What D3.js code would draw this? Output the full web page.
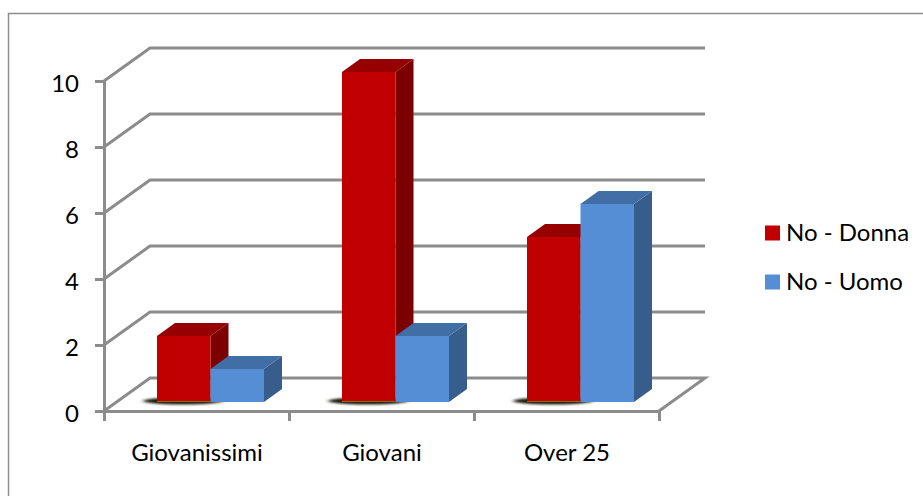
<!DOCTYPE html>
<html>
<head>
<meta charset="utf-8">
<script src="https://cdn.jsdelivr.net/npm/d3@7/dist/d3.min.js"></script>
<style>
html,body{margin:0;padding:0;background:#fff}
svg{display:block}
text{font-family:Lato,"Open Sans",sans-serif;fill:#000}
</style>
</head>
<body>
<script>
const categories = ["Giovanissimi", "Giovani", "Over 25"];
const seriesNames = ["No - Donna", "No - Uomo"];
const donna = [2, 10, 5];
const uomo = [1, 2, 6];
const valueTicks = [0, 2, 4, 6, 8, 10];
const seriesColors = [
  {front: "#c00000", top: "#960000", side: "#7c0000"},
  {front: "#558ed5", top: "#426ea6", side: "#375d8c"}
];

const width = 923, height = 496;
const svg = d3.select("body").append("svg").attr("width", width).attr("height", height);

const defs = svg.append("defs");
defs.append("filter").attr("id", "baseShadow").attr("x", "-30%").attr("y", "-200%").attr("width", "160%").attr("height", "500%")
  .append("feGaussianBlur").attr("stdDeviation", "2 1");

// Chart frame
svg.append("rect").attr("x", 8.5).attr("y", 13.5).attr("width", 940).attr("height", 520)
  .attr("fill", "#fff").attr("stroke", "#8e8e8e").attr("stroke-width", 1.5);

// Front plane of the 3D box and the depth offset to its back wall
const x = d3.scaleBand().domain(categories).range([104, 659]);
const y = d3.scaleLinear().domain([0, 10]).range([411, 81]);
const depth = {dx: 46, dy: -33};
const axisColor = "#8c8c8c";
const axisWidth = 3;

const wall = svg.append("g").attr("fill", "none").attr("stroke", axisColor).attr("stroke-width", axisWidth);

// Gridlines: slanted along the side wall, then straight along the back wall
valueTicks.forEach(t => {
  const px = x.range()[0], py = y(t);
  const pts = [[px, py], [px + depth.dx, py + depth.dy], [x.range()[1] + depth.dx, py + depth.dy]];
  if (t === 0) pts.push([x.range()[1], py]);
  wall.append("path").attr("d", d3.line()(pts));
});

// Axes: drawn through d3.axis, with the ticks pointing outward
const axisLeft = d3.axisLeft(y).tickValues(valueTicks).tickSize(9).tickPadding(16).tickFormat(d3.format("d"));
const gy = svg.append("g").attr("transform", "translate(104,0)").call(axisLeft);
const xEdges = [0, 1, 2, 3].map(i => x.range()[0] + i * x.step());
const xEdgeScale = d3.scaleLinear().domain([x.range()[0], x.range()[1]]).range([x.range()[0], x.range()[1]]);
const axisBottom = d3.axisBottom(xEdgeScale).tickValues(xEdges).tickSize(10).tickFormat("");
const gx = svg.append("g").attr("transform", "translate(0,411)").call(axisBottom);
[gy, gx].forEach(g => {
  g.select(".domain").attr("stroke", axisColor).attr("stroke-width", axisWidth).attr("fill", "none");
  g.selectAll(".tick line").attr("stroke", axisColor).attr("stroke-width", axisWidth);
});
gy.selectAll(".tick text").attr("font-size", 24).attr("font-family", "Lato").attr("fill", "#000").attr("dy", "0.43em");

// Category labels centred under each band
svg.append("g").selectAll("text").data(categories).join("text")
  .attr("x", d => x(d) + x.bandwidth() / 2 + 0.5)
  .attr("y", 461)
  .attr("text-anchor", "middle")
  .attr("font-size", 24)
  .text(d => d);

// Bars: each series sits in a band inside its category, lifted onto the floor
const inner = d3.scaleBand().domain(seriesNames).range([53, 160]);
const floorLift = y(0) - 402;
const barDepth = {dx: 18, dy: -13};

const bars = [];
categories.forEach((c, i) => {
  seriesNames.forEach((s, j) => {
    bars.push({cat: c, series: s, j, value: (j === 0 ? donna : uomo)[i]});
  });
});

// Soft contact shadow under the red bars
svg.append("g").attr("filter", "url(#baseShadow)").selectAll("ellipse")
  .data(bars.filter(b => b.j === 0)).join("ellipse")
  .attr("cx", b => x(b.cat) + inner(b.series) + 26)
  .attr("cy", 401)
  .attr("rx", 40)
  .attr("ry", 3.5)
  .attr("fill", "#1e1e10");

const barG = svg.append("g").selectAll("g").data(bars).join("g");
barG.each(function(b) {
  const g = d3.select(this);
  const x0 = x(b.cat) + inner(b.series);
  const x1 = x0 + inner.bandwidth();
  const yb = y(0) - floorLift;
  const yt = y(b.value) - floorLift;
  const c = seriesColors[b.j];
  const line = d3.line();
  g.append("path").attr("fill", c.side).attr("d", line([
    [x1, yt], [x1 + barDepth.dx, yt + barDepth.dy], [x1 + barDepth.dx, yb + barDepth.dy], [x1, yb]
  ]) + "Z");
  g.append("path").attr("fill", c.top).attr("d", line([
    [x0, yt], [x0 + barDepth.dx, yt + barDepth.dy], [x1 + barDepth.dx, yt + barDepth.dy], [x1, yt]
  ]) + "Z");
  g.append("rect").attr("fill", c.front).attr("x", x0).attr("y", yt).attr("width", x1 - x0).attr("height", yb - yt);
  // Olive sliver along the foot of the red bars
  if (b.j === 0) {
    g.append("rect").attr("fill", "#8a6a00").attr("x", x0).attr("y", yb - 1).attr("width", x1 - x0).attr("height", 1);
  }
});

// Legend
const legendY = d3.scalePoint().domain(seriesNames).range([233, 282]);
const legend = svg.append("g").selectAll("g").data(seriesNames).join("g")
  .attr("transform", d => `translate(765,${legendY(d)})`);
legend.append("rect").attr("y", -7.5).attr("width", 15).attr("height", 15)
  .attr("fill", (d, i) => seriesColors[i].front);
legend.append("text").attr("x", 21).attr("y", 8).attr("font-size", 24).text(d => d);
</script>
</body>
</html>
